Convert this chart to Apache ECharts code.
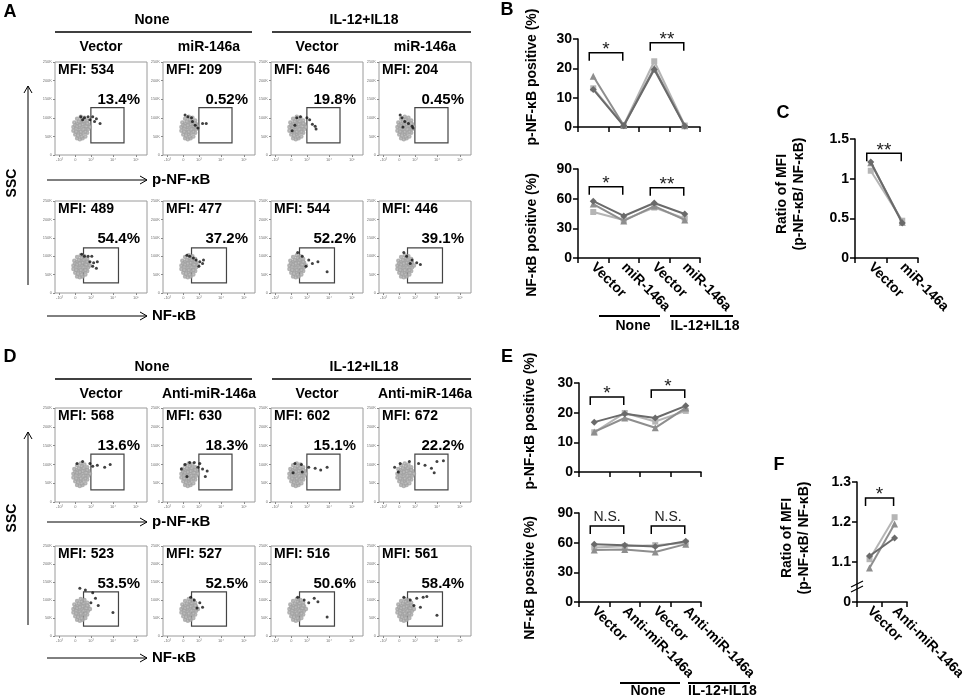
<!DOCTYPE html>
<html>
<head>
<meta charset="utf-8">
<script src="https://cdn.jsdelivr.net/npm/echarts@6/dist/echarts.min.js"></script>
<style>
  html, body { margin: 0; background: #fff; }
  #main { width: 965px; height: 698px; }
</style>
</head>
<body>
<div id="main"></div>
<script>
// ---------- flow plots (A, D) ----------
var groupNames = ['None', 'IL-12+IL18']
var colsA = ['Vector', 'miR-146a', 'Vector', 'miR-146a']
var colsD = ['Vector', 'Anti-miR-146a', 'Vector', 'Anti-miR-146a']
var mfiA1 = [534, 209, 646, 204]
var pctA1 = ['13.4%', '0.52%', '19.8%', '0.45%']
var mfiA2 = [489, 477, 544, 446]
var pctA2 = ['54.4%', '37.2%', '52.2%', '39.1%']
var mfiD1 = [568, 630, 602, 672]
var pctD1 = ['13.6%', '18.3%', '15.1%', '22.2%']
var mfiD2 = [523, 527, 516, 561]
var pctD2 = ['53.5%', '52.5%', '50.6%', '58.4%']

var flowTickX = [5, 22, 39, 63, 88]
var flowLabelX = ['-10³', '0', '10³', '10⁴', '10⁵']
var flowLabelY = ['0', '50K', '100K', '150K', '200K', '250K']
var gateP = [[39, 13], [75, 51]]
var gateN = [[31, 11], [69, 49]]

// gray (negative) cells
var grayCloud = [[22,22],[24,18],[27,17],[30,18],[33,20],[35,24],[36,28],[36,33],[35,37],[32,40],
  [28,41],[24,39],[21,35],[20,30],[20,26],[25,25],[28,22],[31,24],[33,28],[30,30],[26,30],[24,34],
  [28,35],[32,34],[27,27],[23,29],[29,38],[34,31],[25,21],[31,36],[38,30],[22,32],
  [26,36],[30,33],[33,25],[28,25],[24,31],[29,20],[35,34],[27,32],[31,28],[23,25]]

// black (positive) cells per plot
var dotsA1 = [
  [[28,41],[30,38],[32,40],[36,41],[38,38],[41,41],[43,36],[45,39],[49,34]],
  [[24,43],[27,41],[31,40],[32,36],[35,32],[38,29],[43,34],[47,34]],
  [[23,26],[26,32],[28,40],[32,41],[39,40],[42,38],[45,33],[48,31],[49,28]],
  [[23,43],[25,40],[26,30],[28,36],[32,34],[36,31],[37,29]]
]
var dotsA2 = [
  [[29,42],[32,40],[36,40],[38,34],[40,40],[41,29],[42,33],[45,27],[46,34]],
  [[26,41],[29,40],[33,38],[36,36],[39,29],[40,34],[43,32],[44,36]],
  [[29,44],[34,40],[38,29],[41,36],[45,32],[51,34],[61,23]],
  [[27,44],[30,40],[34,32],[36,36],[41,33],[45,31]]
]
var dotsD1 = [
  [[24,41],[30,43],[38,41],[41,38],[46,39],[54,37],[60,40]],
  [[20,35],[24,40],[26,27],[29,42],[34,42],[38,37],[40,41],[43,35],[46,27],[48,33]],
  [[24,31],[26,41],[33,40],[34,32],[41,37],[48,36],[54,34],[61,37]],
  [[17,37],[21,32],[23,41],[33,43],[43,41],[50,39],[57,36],[60,31],[63,43],[70,44]]
]
var dotsD2 = [
  [[27,53],[33,51],[39,37],[41,48],[44,42],[47,34],[63,26]],
  [[30,43],[34,40],[37,31],[40,37],[43,32]],
  [[29,43],[36,40],[41,37],[47,42],[51,38],[61,21]],
  [[27,43],[34,40],[38,34],[41,42],[45,32],[48,43],[52,44],[63,23]]
]

// ---------- line plots (B, C, E, F) ----------
var catsB = ['Vector', 'miR-146a', 'Vector', 'miR-146a']
var catsC = ['Vector', 'miR-146a']
var catsE = ['Vector', 'Anti-miR-146a', 'Vector', 'Anti-miR-146a']
var catsF = ['Vector', 'Anti-miR-146a']

var pB_dia = [12.8, 0.4, 19.6, 0.3]
var pB_tri = [17.3, 0.5, 20.1, 0.4]
var pB_sq = [13.2, 0.6, 22.4, 0.5]
var nB_dia = [57.5, 42.5, 55.6, 44.5]
var nB_tri = [54.5, 37.5, 52.5, 38.5]
var nB_sq = [46.5, 38.5, 51.0, 40.0]
var rC_dia = [1.21, 0.44]
var rC_tri = [1.20, 0.45]
var rC_sq = [1.10, 0.47]
var pE_dia = [16.8, 19.6, 18.2, 22.3]
var pE_tri = [13.5, 18.2, 14.9, 21.6]
var pE_sq = [13.4, 19.9, 17.0, 20.6]
var nE_dia = [58.5, 57.5, 56.0, 61.5]
var nE_tri = [52.5, 53.0, 50.5, 58.5]
var nE_sq = [55.0, 56.5, 57.5, 60.0]
var rF_dia = [1.115, 1.160]
var rF_tri = [1.085, 1.195]
var rF_sq = [1.107, 1.212]

// significance brackets: [from, to, value, text]
var sigB1 = [[0, 1, 25.3, '*'], [2, 3, 28.7, '**']]
var sigB2 = [[0, 1, 72, '*'], [2, 3, 71, '**']]
var sigC = [[0, 1, 1.32, '**']]
var sigE1 = [[0, 1, 25.3, '*'], [2, 3, 27.6, '*']]
var sigE2 = [[0, 1, 76.8, 'N.S.'], [2, 3, 76.8, 'N.S.']]
var sigF = [[0, 1, 1.26, '*']]

var FONT = '"Liberation Sans", Arial, sans-serif'
var chart = echarts.init(document.getElementById('main'))

var grid = [], xAxis = [], yAxis = [], series = []

var flowLeft = [55, 163, 271, 379]
var flowRows = [
  { top: 62, h: 93, mfi: mfiA1, pct: pctA1, dots: dotsA1, gate: gateP },
  { top: 201, h: 92, mfi: mfiA2, pct: pctA2, dots: dotsA2, gate: gateN },
  { top: 408, h: 94, mfi: mfiD1, pct: pctD1, dots: dotsD1, gate: gateP },
  { top: 546, h: 90, mfi: mfiD2, pct: pctD2, dots: dotsD2, gate: gateN }
]

flowRows.forEach(function (row) {
  flowLeft.forEach(function (left, c) {
    var k = grid.length
    grid.push({ left: left, top: row.top, width: 92, height: row.h, show: true,
      borderColor: '#9a9a9a', borderWidth: 1, backgroundColor: 'transparent' })
    xAxis.push({
      gridIndex: k, type: 'value', min: 0, max: 100,
      axisLine: { show: false }, splitLine: { show: false },
      axisTick: { customValues: flowTickX, length: 2, lineStyle: { color: '#888' } },
      axisLabel: { customValues: flowTickX, fontSize: 4, color: '#777', margin: 3,
        formatter: function (v) { return flowLabelX[flowTickX.indexOf(v)] } }
    })
    yAxis.push({
      gridIndex: k, type: 'value', min: 0, max: 100, interval: 20,
      axisLine: { show: false }, splitLine: { show: false },
      axisTick: { length: 2, lineStyle: { color: '#888' } },
      axisLabel: { fontSize: 4, color: '#777', margin: 3,
        formatter: function (v) { return flowLabelY[Math.round(v / 20)] } }
    })
    series.push({
      type: 'scatter', xAxisIndex: k, yAxisIndex: k, data: grayCloud,
      symbol: 'emptyCircle', symbolSize: 2.5, itemStyle: { color: '#a0a0a0', borderWidth: 0.8 }, z: 2
    })
    series.push({
      type: 'scatter', xAxisIndex: k, yAxisIndex: k, data: row.dots[c],
      symbol: 'circle', symbolSize: 3, itemStyle: { color: '#111' }, z: 3,
      markArea: {
        silent: true, label: { show: false },
        itemStyle: { color: 'rgba(0,0,0,0)', borderColor: '#444', borderWidth: 1.2 },
        data: [[{ coord: row.gate[0] }, { coord: row.gate[1] }]]
      }
    })
  })
})

var lineStyles = [
  { symbol: 'rect', size: 6, color: '#b5b5b5' },
  { symbol: 'triangle', size: 7, color: '#8e8e8e' },
  { symbol: 'diamond', size: 7, color: '#6a6a6a' }
]

var linePanels = [
  { left: 578, top: 39, width: 122, height: 88, min: 0, max: 30, step: 10, cats: catsB, labels: false,
    sets: [pB_sq, pB_tri, pB_dia], sig: sigB1 },
  { left: 578, top: 169, width: 122, height: 89, min: 0, max: 90, step: 30, cats: catsB, labels: true,
    sets: [nB_sq, nB_tri, nB_dia], sig: sigB2 },
  { left: 855, top: 139, width: 63, height: 119, min: 0, max: 1.5, step: 0.5, cats: catsC, labels: true,
    sets: [rC_sq, rC_tri, rC_dia], sig: sigC },
  { left: 579, top: 383, width: 122, height: 89, min: 0, max: 30, step: 10, cats: catsE, labels: false,
    sets: [pE_sq, pE_tri, pE_dia], sig: sigE1 },
  { left: 579, top: 513, width: 122, height: 89, min: 0, max: 90, step: 30, cats: catsE, labels: true,
    sets: [nE_sq, nE_tri, nE_dia], sig: sigE2 },
  { left: 857, top: 482, width: 63, height: 120, min: 1.0, max: 1.3, step: 0.1, cats: catsF, labels: true,
    sets: [rF_sq, rF_tri, rF_dia], sig: sigF, broken: true }
]

var axisLineStyle = { color: '#000', width: 1.5 }
linePanels.forEach(function (p) {
  var k = grid.length
  p.index = k
  grid.push({ left: p.left, top: p.top, width: p.width, height: p.height })
  xAxis.push({
    gridIndex: k, type: 'category', data: p.cats, boundaryGap: true,
    axisLine: { lineStyle: axisLineStyle },
    axisTick: { show: true, length: 5, lineStyle: axisLineStyle },
    axisLabel: { show: p.labels, rotate: -45, interval: 0, margin: 7, color: '#000',
      fontSize: 14, fontWeight: 'bold', fontFamily: FONT }
  })
  yAxis.push({
    gridIndex: k, type: 'value', min: p.min, max: p.max, interval: p.step,
    splitLine: { show: false },
    axisLine: { show: true, lineStyle: axisLineStyle },
    axisTick: { show: true, length: 5, lineStyle: axisLineStyle },
    axisLabel: { color: '#000', fontSize: 14, fontWeight: 'bold', fontFamily: FONT, margin: 6,
      formatter: p.broken
        ? function (v) { return v < 1.05 ? '0' : v.toFixed(1) }
        : function (v) { return String(v) } }
  })
  p.sets.forEach(function (d, i) {
    var s = lineStyles[i]
    series.push({
      type: 'line', xAxisIndex: k, yAxisIndex: k, data: d,
      symbol: s.symbol, symbolSize: s.size, z: 3 + i,
      lineStyle: { color: s.color, width: 2 },
      itemStyle: { color: s.color }
    })
  })
})

chart.setOption({
  animation: false,
  backgroundColor: '#fff',
  textStyle: { fontFamily: FONT },
  grid: grid, xAxis: xAxis, yAxis: yAxis, series: series
})

// ---------- annotations ----------
var g = []
function text(x, y, s, size, opt) {
  opt = opt || {}
  var font = (opt.weight || 'bold') + ' ' + size + 'px ' + FONT
  g.push({
    type: 'text', x: x, y: y, rotation: opt.rot || 0, z: 10,
    style: { text: s, fill: opt.color || '#000', font: font,
      align: opt.align || 'center', verticalAlign: opt.va || 'middle',
      textAlign: opt.align || 'center', textVerticalAlign: opt.va || 'middle',
      lineHeight: opt.lh || size + 3 }
  })
}
function line(x1, y1, x2, y2, w, color) {
  g.push({ type: 'line', z: 10, shape: { x1: x1, y1: y1, x2: x2, y2: y2 },
    style: { stroke: color || '#000', lineWidth: w || 1 } })
}
function poly(points, w) {
  g.push({ type: 'polyline', z: 10, shape: { points: points },
    style: { stroke: '#000', lineWidth: w || 1, fill: null } })
}

// panel letters
text(10, 12, 'A', 18); text(507, 10, 'B', 18); text(783, 113, 'C', 18)
text(10, 357, 'D', 18); text(507, 357, 'E', 18); text(779, 465, 'F', 18)

// flow headers
function flowHeader(dy, cols) {
  text(152, 20 + dy, groupNames[0], 14)
  line(55, 32 + dy, 252, 32 + dy, 1.5)
  text(364, 20 + dy, groupNames[1], 14)
  line(272, 32 + dy, 471, 32 + dy, 1.5)
  cols.forEach(function (s, c) { text(flowLeft[c] + 46, 47 + dy, s, 14) })
}
flowHeader(0, colsA)
flowHeader(347, colsD)

flowRows.forEach(function (row) {
  flowLeft.forEach(function (left, c) {
    text(left + 3, row.top + 8, 'MFI: ' + row.mfi[c], 14, { align: 'left' })
    text(left + 85, row.top + 38, row.pct[c], 15, { align: 'right' })
  })
})

function hArrow(y, label) {
  line(47, y, 147, y, 1)
  poly([[140, y - 4], [147, y], [140, y + 4]], 1)
  text(152, y, label, 15, { align: 'left' })
}
hArrow(180, 'p-NF-κB'); hArrow(316, 'NF-κB')
hArrow(522, 'p-NF-κB'); hArrow(658, 'NF-κB')

function vArrow(yTop, yBot, yText) {
  line(28, yBot, 28, yTop, 1)
  poly([[24, yTop + 7], [28, yTop], [32, yTop + 7]], 1)
  text(12, yText, 'SSC', 14, { rot: Math.PI / 2 })
}
vArrow(86, 285, 183)
vArrow(432, 625, 518)

// y-axis titles of line plots
var ratioTitle = 'Ratio of MFI\n(p-NF-κB/ NF-κB)'
text(532, 77, 'p-NF-κB positive (%)', 14, { rot: Math.PI / 2 })
text(532, 235, 'NF-κB positive (%)', 14, { rot: Math.PI / 2 })
text(791, 194, ratioTitle, 14, { rot: Math.PI / 2, lh: 17 })
text(530, 421, 'p-NF-κB positive (%)', 14, { rot: Math.PI / 2 })
text(530, 578, 'NF-κB positive (%)', 14, { rot: Math.PI / 2 })
text(796, 538, ratioTitle, 14, { rot: Math.PI / 2, lh: 17 })

// group labels under category axes
line(599, 316, 660, 316, 2); text(633, 326, groupNames[0], 14)
line(670, 316, 733, 316, 2); text(705, 326, groupNames[1], 14)
line(620, 683, 680, 683, 2); text(648, 691, groupNames[0], 14)
line(688, 683, 750, 683, 2); text(688, 691, groupNames[1], 14, { align: 'left' })

// brackets from data coordinates
linePanels.forEach(function (p) {
  var finder = { xAxisIndex: p.index, yAxisIndex: p.index }
  p.sig.forEach(function (b) {
    var a = chart.convertToPixel(finder, [b[0], b[2]])
    var c = chart.convertToPixel(finder, [b[1], b[2]])
    var x0 = a[0] - 4, x1 = c[0] - 1, y = a[1]
    poly([[x0, y + 8], [x0, y], [x1, y], [x1, y + 8]], 1.5)
    if (b[3] === 'N.S.') text((x0 + x1) / 2, y - 9, b[3], 14, { weight: 'normal', color: '#222' })
    else text((x0 + x1) / 2, y - 3, b[3], 19, { weight: 'normal', color: '#222' })
  })
  if (p.broken) {
    var q = chart.convertToPixel(finder, [0, 1.04])
    var ax = p.left
    line(ax - 6, q[1] + 1, ax + 6, q[1] - 5, 1.2)
    line(ax - 6, q[1] + 6, ax + 6, q[1], 1.2)
  }
})

chart.setOption({ graphic: { elements: g } })
</script>
</body>
</html>
